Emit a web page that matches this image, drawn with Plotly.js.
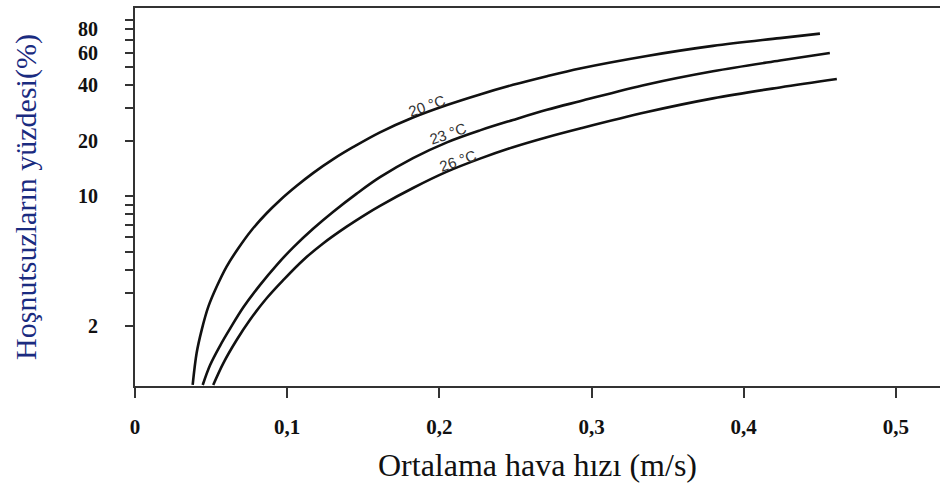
<!DOCTYPE html>
<html>
<head>
<meta charset="utf-8">
<script src="https://cdn.plot.ly/plotly-3.0.1.min.js"></script>
<style>html,body{margin:0;padding:0;background:#fff}</style>
</head>
<body>
<div id="chart" style="width:940px;height:487px"></div>
<script>
// Mean air velocity (m/s) and percentage dissatisfied (%) for each air temperature
const x20 = [0.0379, 0.0405, 0.0438, 0.0482, 0.0537, 0.0602, 0.0679, 0.0767, 0.0865, 0.0953, 0.1063, 0.1172, 0.1303, 0.1435, 0.161, 0.1827, 0.205, 0.2267, 0.2484, 0.2707, 0.2924, 0.3364, 0.3798, 0.4238, 0.4501];
const y20 = [0.954, 1.42, 1.89, 2.53, 3.25, 4.17, 5.24, 6.58, 8.10, 9.53, 11.4, 13.4, 15.9, 18.5, 22.2, 26.7, 31.2, 35.6, 40.1, 44.7, 49.2, 57.5, 65.2, 71.8, 75.9];

const x23 = [0.0445, 0.0493, 0.0558, 0.0624, 0.0712, 0.0821, 0.0931, 0.104, 0.1172, 0.1303, 0.1457, 0.161, 0.1827, 0.205, 0.2267, 0.2484, 0.2707, 0.2924, 0.3364, 0.3798, 0.4238, 0.4566];
const y23 = [0.954, 1.22, 1.55, 1.92, 2.51, 3.31, 4.25, 5.30, 6.70, 8.26, 10.35, 12.7, 16.1, 19.6, 22.75, 25.9, 29.4, 32.7, 40.3, 47.5, 54.3, 59.6];

const x26 = [0.0514, 0.058, 0.0668, 0.0756, 0.0865, 0.0975, 0.1106, 0.1238, 0.1391, 0.1522, 0.161, 0.1827, 0.205, 0.2267, 0.2484, 0.2707, 0.2924, 0.3364, 0.3798, 0.4238, 0.4612];
const y26 = [0.954, 1.25, 1.67, 2.15, 2.81, 3.53, 4.53, 5.58, 6.86, 8.05, 8.89, 11.1, 13.6, 16.0, 18.45, 20.9, 23.3, 28.6, 33.9, 38.85, 43.1];

const curveLabels = ['20 °C', '23 °C', '26 °C'];

const xTickVals = [0, 0.1, 0.2, 0.3, 0.4, 0.5];
const xTickText = ['0', '0,1', '0,2', '0,3', '0,4', '0,5'];
const yTickVals = [2, 3, 4, 5, 6, 7, 8, 9, 10, 20, 30, 40, 50, 60, 70, 80, 90];
const yTickText = ['2', '', '', '', '', '', '', '', '10', '20', '', '40', '', '60', '', '80', ''];

const xTitle = 'Ortalama hava hızı (m/s)';
const yTitle = 'Hoşnutsuzların yüzdesi(%)';

const lineStyle = {color: '#111', width: 2.6, shape: 'spline', smoothing: 1};
const series = [[x20, y20], [x23, y23], [x26, y26]];
const traces = series.map(function (s, i) {
  return {x: s[0], y: s[1], type: 'scatter', mode: 'lines', line: lineStyle,
          name: curveLabels[i], showlegend: false, hoverinfo: 'skip'};
});

// label anchors: a point on each curve, with the text just above it
const anchorX = [0.1827, 0.205, 0.205];
const shifts = [[14, 12], [1, 9], [11, 11]];
const annotations = series.map(function (s, i) {
  const k = s[0].indexOf(anchorX[i]);
  return {
    x: s[0][k], y: Math.log10(s[1][k]),
    xref: 'x', yref: 'y', text: curveLabels[i], showarrow: false,
    textangle: -19, xshift: shifts[i][0], yshift: shifts[i][1],
    font: {family: 'Liberation Sans, Arial, sans-serif', size: 15, color: '#333'}
  };
});

const serif = 'Liberation Serif, Times New Roman, serif';
const layout = {
  width: 940, height: 487,
  margin: {l: 135, r: 0, t: 8, b: 101, pad: 0},
  paper_bgcolor: '#fff', plot_bgcolor: '#fff',
  showlegend: false,
  xaxis: {
    range: [0, 0.529], showgrid: false, zeroline: false,
    showline: true, linecolor: '#333', linewidth: 2, mirror: true,
    ticks: 'outside', ticklen: 10, tickwidth: 2, tickcolor: '#333',
    tickvals: xTickVals, ticktext: xTickText, ticklabelstandoff: 11,
    tickfont: {family: serif, size: 21, color: '#111', weight: 'bold'},
    title: {text: xTitle, standoff: 15,
            font: {family: serif, size: 32, color: '#111'}}
  },
  yaxis: {
    type: 'log', range: [-0.026, 2.019], showgrid: false, zeroline: false,
    showline: true, linecolor: '#333', linewidth: 2, mirror: false,
    ticks: 'outside', ticklen: 8, tickwidth: 2, tickcolor: '#333',
    tickvals: yTickVals, ticktext: yTickText, ticklabelstandoff: 23,
    tickfont: {family: serif, size: 20, color: '#111', weight: 'bold'},
    title: {text: yTitle, standoff: 33,
            font: {family: serif, size: 30, color: '#1a2b80'}}
  },
  annotations: annotations
};

Plotly.newPlot('chart', traces, layout, {staticPlot: true, displayModeBar: false});
</script>
</body>
</html>
